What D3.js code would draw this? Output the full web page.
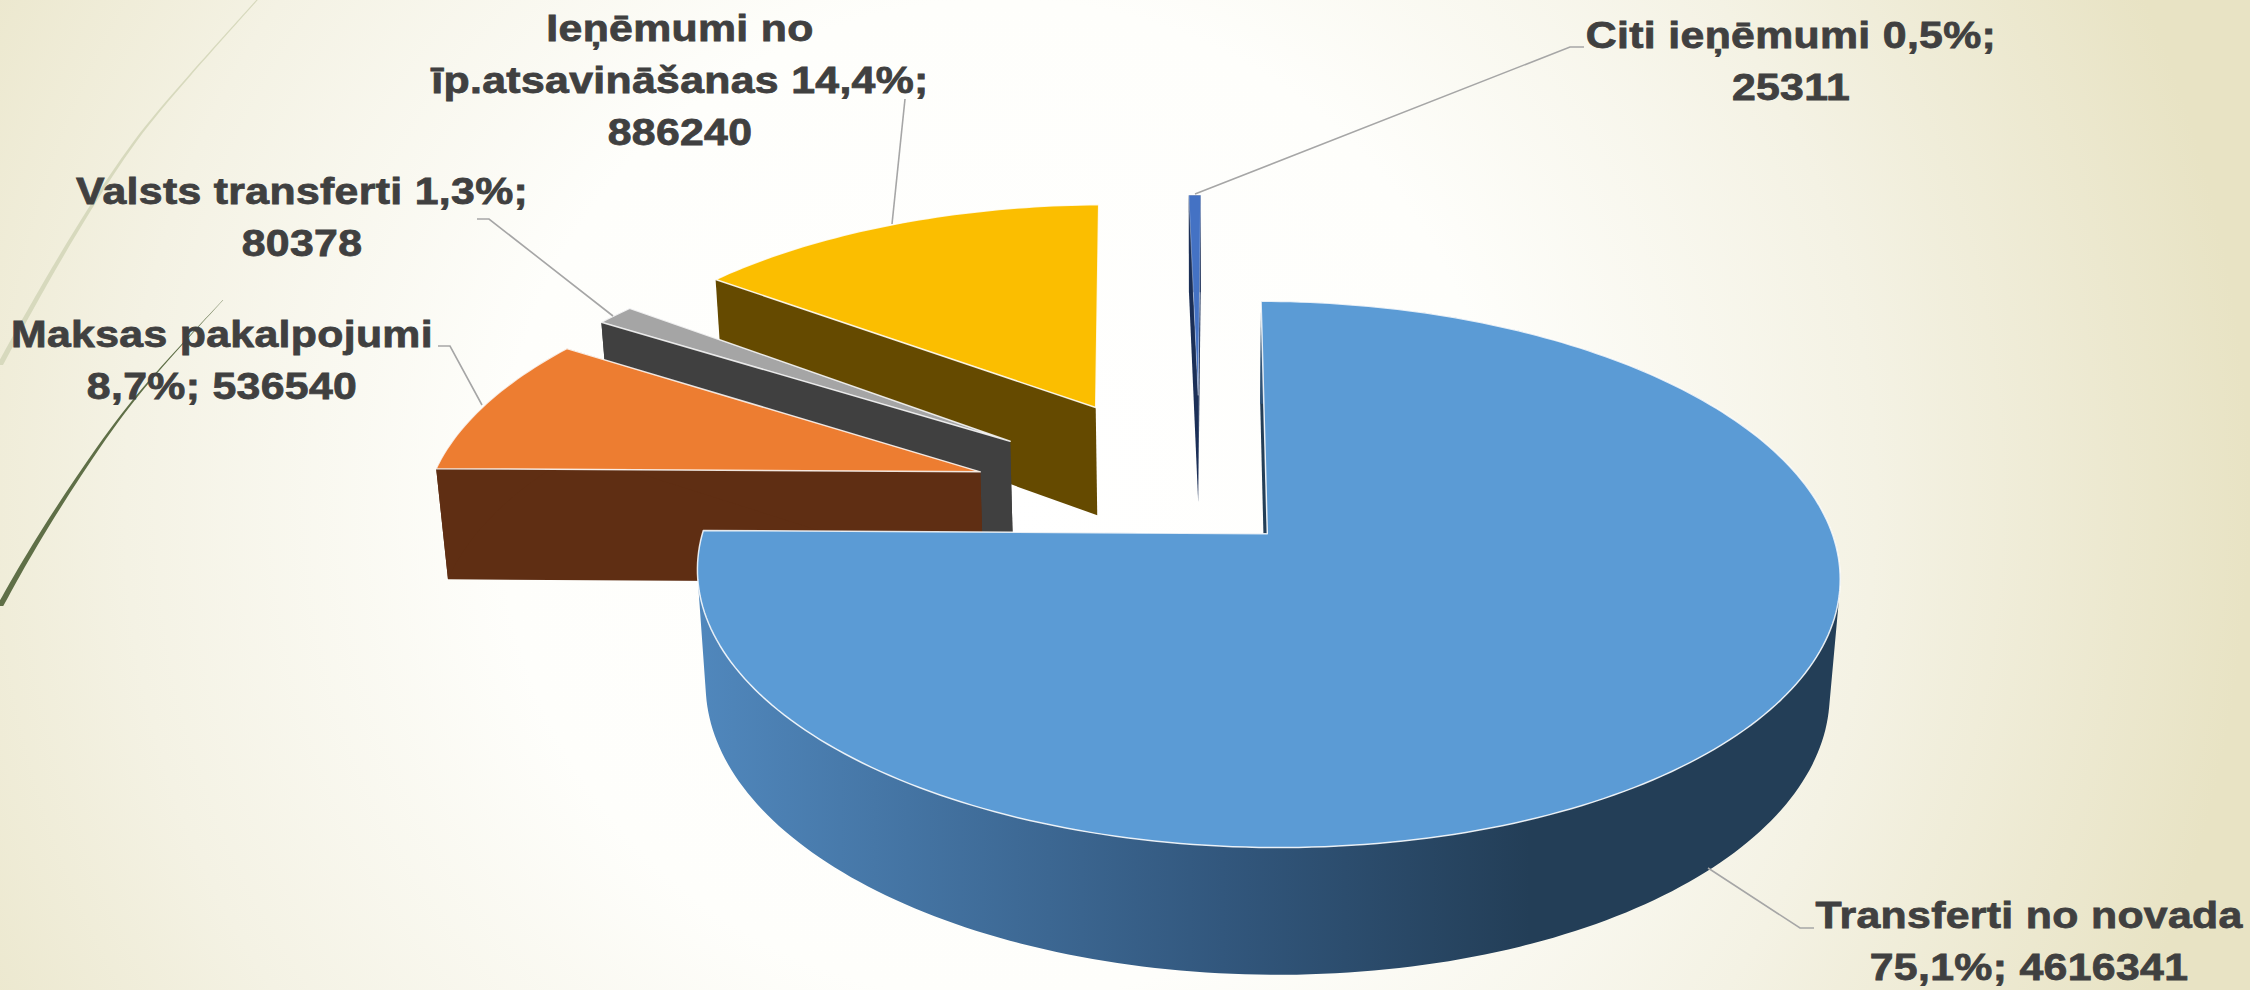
<!DOCTYPE html>
<html>
<head>
<meta charset="utf-8">
<script src="https://d3js.org/d3.v7.min.js"></script>
<style>
  html, body { margin: 0; padding: 0; overflow: hidden; background: #fff; }
  text { font-family: "Liberation Sans", Arial, sans-serif; font-weight: 700; font-size: 37.5px; letter-spacing: 0.3px; fill: #404040; stroke: #404040; stroke-width: 0.8px; text-anchor: middle; }
</style>
</head>
<body>
<svg id="chart" width="2250" height="990"></svg>
<script>
// data
const categories = ['Transferti no novada', 'Maksas pakalpojumi', 'Valsts transferti', 'Ieņēmumi no īp.atsavināšanas', 'Citi ieņēmumi']
const values = [4616341, 536540, 80378, 886240, 25311]
const labelLines = [
    ['Transferti no novada', '75,1%; 4616341'],
    ['Maksas pakalpojumi', '8,7%; 536540'],
    ['Valsts transferti 1,3%;', '80378'],
    ['Ieņēmumi no', 'īp.atsavināšanas 14,4%;', '886240'],
    ['Citi ieņēmumi 0,5%;', '25311']
]

// styling + layout
const topColors = ['#5b9bd5', '#ed7d31', '#a5a5a5', '#fbbe00', '#4472c4']
const wallColors = ['#233e57', '#5f2e13', '#404040', '#654a00', '#1b2f57']
const explode = [0.17, 0.42, 0.43, 0.435, 0.44]
const backHidden = [false, false, false, true, false] // rim and end wall sit behind the top face
const labelPos = [[2029, 928], [222, 347], [302, 204], [680, 41], [1791, 48]]
const leaders = [
    [[1814, 928], [1800, 928], [1708, 868]],
    [[438, 346], [450, 346], [482, 405]],
    [[477, 219], [489, 219], [613, 316]],
    [[905, 99], [892, 224]],
    [[1584, 47], [1570, 47], [1195, 194]]
]

const chart = d3.select('#chart')
const defs = chart.append('defs')

// slide background
const bg = defs.append('radialGradient')
    .attr('id', 'bg')
    .attr('gradientUnits', 'userSpaceOnUse')
    .attr('cx', 0).attr('cy', 0).attr('r', 1)
    .attr('gradientTransform', 'translate(1000 500) scale(1250 1250)')
bg.append('stop').attr('offset', 0).attr('stop-color', '#ffffff')
bg.append('stop').attr('offset', 0.4).attr('stop-color', '#fefefb')
bg.append('stop').attr('offset', 0.7).attr('stop-color', '#f4f2e4')
bg.append('stop').attr('offset', 1).attr('stop-color', '#e8e3c4')
chart.append('rect').attr('width', 2250).attr('height', 990).attr('fill', 'url(#bg)')

// the two theme swooshes on the left: [y, x, width]
const paleSwoosh = [[0, 257, 1.5], [78, 187, 2], [141, 133, 3], [208, 90, 4], [286, 43, 5], [365, 0, 6]]
const darkSwoosh = [[300, 223, 0.4], [343, 183, 1.2], [402, 130, 2.5], [478, 77, 4], [547, 33, 5.5], [606, 0, 6.5]]
const swoosh = d3.area()
    .curve(d3.curveBasis)
    .y(d => d[0])
    .x0(d => d[1] - d[2] / 2)
    .x1(d => d[1] + d[2] / 2)
chart.append('path').attr('d', swoosh(paleSwoosh)).attr('fill', '#d7d9bd')
chart.append('path').attr('d', swoosh(darkSwoosh)).attr('fill', '#5f6f47')

// pie geometry
const pie = d3.pie().value(d => d).sort(null).startAngle(0.005).endAngle(0.005 + 2 * Math.PI)
const arcs = pie(values)

// perspective: plane point (x, y), h=0 top face, h=1 bottom face
const X0 = 1200, Y0 = 502, B = 555, A = 257.8, C = 114, P = 0.1458, Q = 0.016
const project = (x, y, h) => {
    const w = 1 + P * y + Q * h
    return [X0 + B * x / w, Y0 + (-A * y + C * h) / w]
}
const line = d3.line()

const apexOf = (a, i) => {
    const mid = (a.startAngle + a.endAngle) / 2
    return [explode[i] * Math.sin(mid), explode[i] * Math.cos(mid)]
}
const rimPoints = (a, i, h) => {
    const [ax, ay] = apexOf(a, i)
    const n = Math.max(4, Math.ceil((a.endAngle - a.startAngle) / 0.02))
    return d3.range(n + 1).map(k => {
        const t = a.startAngle + (a.endAngle - a.startAngle) * k / n
        return project(ax + Math.sin(t), ay + Math.cos(t), h)
    })
}

// shading of the big slice's rim
const rimGrad = defs.append('linearGradient')
    .attr('id', 'rim0')
    .attr('gradientUnits', 'userSpaceOnUse')
    .attr('x1', 700).attr('x2', 1530).attr('y1', 0).attr('y2', 0)
rimGrad.append('stop').attr('offset', 0).attr('stop-color', '#5087bc')
rimGrad.append('stop').attr('offset', 0.63).attr('stop-color', '#32577d')
rimGrad.append('stop').attr('offset', 1).attr('stop-color', '#233e57')

// back to front
const order = [4, 3, 2, 1, 0]
const slices = chart.selectAll('g.slice')
    .data(order)
    .enter()
    .append('g')
    .attr('class', 'slice')

slices.each(function (i) {
    const g = d3.select(this)
    const a = arcs[i]
    const [ax, ay] = apexOf(a, i)
    const topRim = rimPoints(a, i, 0)
    const botRim = rimPoints(a, i, 1)
    const apexTop = project(ax, ay, 0)
    const apexBot = project(ax, ay, 1)
    // radial walls
    g.append('path')
        .attr('d', line([apexTop, topRim[0], botRim[0], apexBot]) + 'Z')
        .attr('fill', wallColors[i])
    if (!backHidden[i]) {
        g.append('path')
            .attr('d', line([apexTop, topRim[topRim.length - 1], botRim[botRim.length - 1], apexBot]) + 'Z')
            .attr('fill', wallColors[i])
        // outer rim: quads with the same winding in one path, so the silhouette stays straight and has no seams
        const quads = d3.range(topRim.length - 1).map(k => {
            const quad = [topRim[k], topRim[k + 1], botRim[k + 1], botRim[k]]
            return d3.polygonArea(quad) < 0 ? quad.reverse() : quad
        })
        g.append('path')
            .attr('d', quads.map(q => line(q) + 'Z').join(''))
            .attr('fill', i === 0 ? 'url(#rim0)' : wallColors[i])
    }
    // top face
    g.append('path')
        .attr('d', line([apexTop].concat(topRim)) + 'Z')
        .attr('fill', topColors[i])
        .attr('stroke', '#fff')
        .attr('stroke-opacity', 0.85)
        .attr('stroke-width', i === 4 ? 0.4 : 1.5)
        .attr('stroke-linejoin', 'round')
})

// leader lines
chart.selectAll('path.leader')
    .data(leaders)
    .enter()
    .append('path')
    .attr('class', 'leader')
    .attr('d', d => line(d))
    .attr('fill', 'none')
    .attr('stroke', '#a6a6a6')
    .attr('stroke-width', 1.6)

// labels
const labels = chart.selectAll('text.label')
    .data(labelLines)
    .enter()
    .append('text')
    .attr('class', 'label')
    .attr('transform', (d, i) => `translate(${labelPos[i][0]},${labelPos[i][1]}) scale(1.14,1)`)
labels.selectAll('tspan')
    .data(d => d)
    .enter()
    .append('tspan')
    .attr('x', 0)
    .attr('y', (d, k) => k * 51.8)
    .text(d => d)
</script>
</body>
</html>
